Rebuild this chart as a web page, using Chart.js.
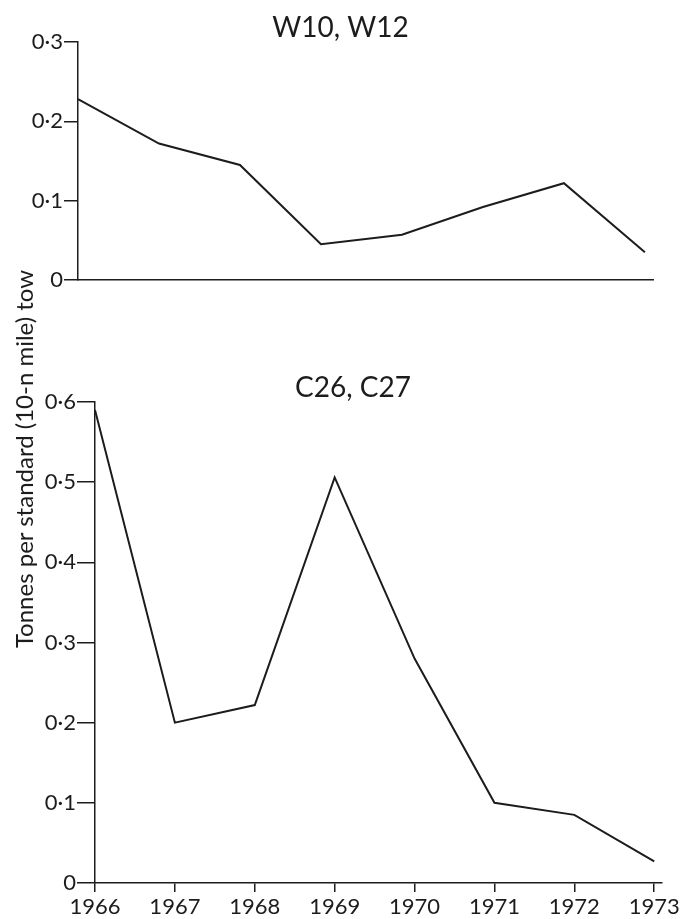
<!DOCTYPE html>
<html lang="en">
<head>
  <meta charset="UTF-8" />
  <title>Tonnes per standard tow</title>
  <script src="https://cdn.jsdelivr.net/npm/chart.js"></script>
  <style>
    body { margin: 0; background: #fff; }
    .page { position: relative; width: 682px; height: 919px; overflow: hidden; }
    #topChart { position: absolute; left: 0; top: 0; }
    #bottomChart { position: absolute; left: 0; top: 344px; }
    .ylabel {
      position: absolute; left: -176px; top: 445px; width: 400px; line-height: 28px;
      text-align: center; font-family: Lato, sans-serif; font-size: 24px; color: #1c1c1c;
      transform: rotate(-90deg); white-space: nowrap;
    }
  </style>
</head>
<body>
  <div class="page">
    <canvas id="topChart" width="682" height="300"></canvas>
    <canvas id="bottomChart" width="682" height="575"></canvas>
    <div class="ylabel">Tonnes per standard (10-n mile) tow</div>
  </div>

  <script>
    const years = [1966, 1967, 1968, 1969, 1970, 1971, 1972, 1973];
    const yearLabels = ['1966', '1967', '1968', '1969', '1970', '1971', '1972', '1973'];
    const w10w12 = [0.228, 0.172, 0.145, 0.045, 0.057, 0.092, 0.122, 0.035];
    const c26c27 = [0.59, 0.20, 0.222, 0.506, 0.28, 0.10, 0.085, 0.027];
    const topTicks = [0, 0.1, 0.2, 0.3];
    const topTickLabels = ['0', '0·1', '0·2', '0·3'];
    const bottomTicks = [0, 0.1, 0.2, 0.3, 0.4, 0.5, 0.6];
    const bottomTickLabels = ['0', '0·1', '0·2', '0·3', '0·4', '0·5', '0·6'];

    const ink = '#1c1c1c';
    Chart.defaults.font.family = 'Lato';
    Chart.defaults.color = ink;

    function points(vals) {
      return years.map((y, i) => ({ x: y, y: vals[i] }));
    }

    function yAxis(max, ticks, labels, width, tickLen) {
      return {
        min: 0,
        max: max,
        afterFit: s => { s.width = width; },
        afterBuildTicks: s => { s.ticks = ticks.map(v => ({ value: v })); },
        ticks: { callback: (v, i) => labels[i], font: { size: 22 }, padding: 1, color: ink },
        grid: { drawOnChartArea: false, tickLength: tickLen, color: ink, lineWidth: 1.5 },
        border: { color: ink, width: 1.5 }
      };
    }

    function lineSet(vals) {
      return {
        data: points(vals),
        borderColor: ink,
        borderWidth: 2,
        pointRadius: 0,
        tension: 0,
        fill: false
      };
    }

    // top panel: W10, W12 (no year labels)
    new Chart(document.getElementById('topChart'), {
      type: 'line',
      data: { datasets: [lineSet(w10w12)] },
      options: {
        responsive: false,
        animation: false,
        layout: { padding: { left: 28, right: 29, top: 0, bottom: 20 } },
        plugins: {
          legend: { display: false },
          tooltip: { enabled: false },
          title: {
            display: true, text: 'W10, W12', color: ink,
            font: { size: 28, weight: 'normal', lineHeight: 1 },
            padding: { top: 14, bottom: 0 }
          }
        },
        scales: {
          x: {
            type: 'linear', min: 1966, max: 1973.1,
            afterFit: s => { s.height = 0; },
            ticks: { display: false },
            grid: { drawOnChartArea: false, drawTicks: false, color: ink },
            border: { color: ink, width: 1.5 }
          },
          y: yAxis(0.3, topTicks, topTickLabels, 50, 14)
        }
      }
    });

    // bottom panel: C26, C27
    new Chart(document.getElementById('bottomChart'), {
      type: 'line',
      data: { datasets: [lineSet(c26c27)] },
      options: {
        responsive: false,
        animation: false,
        layout: { padding: { left: 41, right: 17, top: 0, bottom: 0 } },
        plugins: {
          legend: { display: false },
          tooltip: { enabled: false },
          title: {
            display: true, text: 'C26, C27', color: ink,
            font: { size: 28, weight: 'normal', lineHeight: 1 },
            padding: { top: 30, bottom: 0 }
          }
        },
        scales: {
          x: {
            type: 'linear', min: 1966, max: 1973.1,
            afterFit: s => { s.height = 36; },
            afterBuildTicks: s => { s.ticks = years.map(v => ({ value: v })); },
            ticks: { callback: (v, i) => yearLabels[i], font: { size: 22 }, padding: 2, color: ink, maxRotation: 0 },
            grid: { drawOnChartArea: false, tickLength: 9, color: ink, lineWidth: 1.5 },
            border: { color: ink, width: 1.5 }
          },
          y: yAxis(0.6, bottomTicks, bottomTickLabels, 54, 18)
        }
      }
    });
  </script>
</body>
</html>
